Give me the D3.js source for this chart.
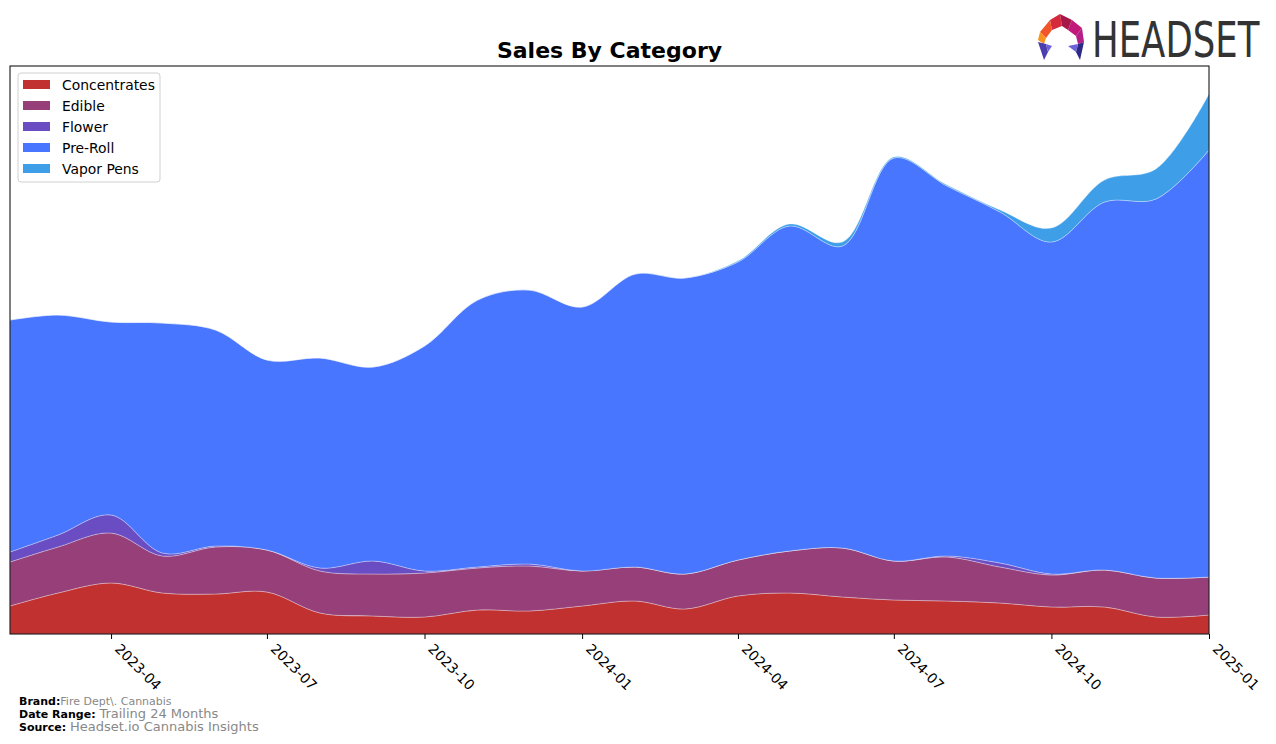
<!DOCTYPE html>
<html>
<head>
<meta charset="utf-8">
<script src="https://cdn.jsdelivr.net/npm/d3@7"></script>
<style>
  body { margin: 0; background: #fff; }
  text { font-family: "DejaVu Sans", sans-serif; }
</style>
</head>
<body>
<div id="vis"></div>
<script>
// monthly points, Feb 2023 .. Jan 2025
var months = ["2023-02","2023-03","2023-04","2023-05","2023-06","2023-07","2023-08","2023-09",
  "2023-10","2023-11","2023-12","2024-01","2024-02","2024-03","2024-04","2024-05","2024-06",
  "2024-07","2024-08","2024-09","2024-10","2024-11","2024-12","2025-01"];
var categories = ["Concentrates","Edible","Flower","Pre-Roll","Vapor Pens"];
var colors = ["#c0312f","#963f78","#6b4dc3","#4876fe","#3e9fe8"];

var concentrates = [28,41,51,41,40,42,21,18,17,24,23,28,33,25,38,41,37,34,33,31,27,27,17,19];
var edible       = [44,46,50,37,47,42,42,42,44,42,45,35,34,35,36,42,49,39,44,36,32,37,39,38];
var flower       = [10,12,18,3,1,0,3,13,2,1,2,0,0,0,0,0,0,0,1,4,1,0,0,0];
var preRoll      = [232,220,193,230,216,190,210,194,225,267,274,264,293,296,298,325,302,403,370,351,332,368,379,427];
var vaporPens    = [0,0,0,0,0,0,0,0,0,0,0,0,0,0,1,2,4,1,1,2,14,22,30,56];

var tickLabels = ["2023-04","2023-07","2023-10","2024-01","2024-04","2024-07","2024-10","2025-01"];

var W = 1276, H = 744;
var pL = 10, pR = 1209, pT = 66, pB = 634;
var parse = d3.timeParse("%Y-%m");

var rows = months.map(function(m, i) {
  return {date: parse(m), "Concentrates": concentrates[i], "Edible": edible[i],
    "Flower": flower[i], "Pre-Roll": preRoll[i], "Vapor Pens": vaporPens[i]};
});

var svg = d3.select("#vis").append("svg")
  .attr("width", W).attr("height", H);

var x = d3.scaleTime()
  .domain([parse(months[0]), parse(months[months.length-1])])
  .range([pL, pR]);

var series = d3.stack().keys(categories)(rows);
var maxTotal = d3.max(series[series.length-1], function(d){ return d[1]; });

var y = d3.scaleLinear()
  .domain([0, maxTotal * 1.052])
  .range([pB, pT]);

var area = d3.area()
  .curve(d3.curveCatmullRom.alpha(0.5))
  .x(function(d){ return x(d.data.date); })
  .y0(function(d){ return y(d[0]); })
  .y1(function(d){ return y(d[1]); });

svg.append("clipPath").attr("id", "clip")
  .append("rect").attr("x", pL).attr("y", pT)
  .attr("width", pR-pL).attr("height", pB-pT);

svg.append("g").attr("clip-path", "url(#clip)")
  .selectAll("path")
  .data(series)
  .enter().append("path")
  .attr("fill", function(d, i){ return colors[i]; })
  .attr("stroke", "rgba(255,255,255,0.3)")
  .attr("stroke-width", 1)
  .attr("d", area);

// frame
svg.append("rect")
  .attr("x", pL).attr("y", pT)
  .attr("width", pR-pL).attr("height", pB-pT)
  .attr("fill", "none").attr("stroke", "#000").attr("stroke-width", 1);

// x axis
var xAxis = d3.axisBottom(x)
  .tickValues(tickLabels.map(parse))
  .tickFormat(d3.timeFormat("%Y-%m"))
  .tickSize(5).tickSizeOuter(0);

var ax = svg.append("g")
  .attr("transform", "translate(0," + pB + ")")
  .call(xAxis);
ax.select(".domain").remove();
ax.selectAll("line").attr("stroke", "#000");
ax.selectAll("text")
  .attr("font-size", 14)
  .attr("fill", "#000")
  .attr("text-anchor", "start")
  .attr("dy", "0")
  .attr("transform", "translate(8,10) rotate(45)");

// title
svg.append("text")
  .attr("x", (pL+pR)/2).attr("y", 58)
  .attr("text-anchor", "middle")
  .attr("font-size", 22).attr("font-weight", "bold")
  .text("Sales By Category");

// legend
var lg = svg.append("g");
lg.append("rect")
  .attr("x", 18).attr("y", 73).attr("width", 142).attr("height", 109)
  .attr("rx", 3).attr("fill", "#fff").attr("fill-opacity", 0.8)
  .attr("stroke", "#d0d0d0");
var li = lg.selectAll("g.item").data(categories).enter().append("g")
  .attr("class", "item")
  .attr("transform", function(d, i){ return "translate(23," + (85 + i*21) + ")"; });
li.append("rect").attr("x", 0).attr("y", -5).attr("width", 27).attr("height", 9)
  .attr("fill", function(d, i){ return colors[i]; });
li.append("text").attr("x", 39).attr("y", 5).attr("font-size", 13.9)
  .text(function(d){ return d; });

// footer
function footer(yy, label, value, size) {
  var t = svg.append("text").attr("x", 19).attr("y", yy).attr("font-size", 11);
  t.append("tspan").attr("font-weight", "bold").attr("fill", "#000").text(label);
  t.append("tspan").attr("fill", "#888").attr("font-size", size).text(value);
}
footer(705, "Brand:", "Fire Dept\\. Cannabis", 11);
footer(718, "Date Range: ", "Trailing 24 Months", 13);
footer(731, "Source: ", "Headset.io Cannabis Insights", 13);

// logo
var logo = svg.append("g").attr("transform", "translate(1038,14)");
var facets = [
  {p: "12,6 22,0 24,12 14,16", c: "#d42a3c"},
  {p: "22,0 34,6 30,16 24,12", c: "#a8174a"},
  {p: "34,6 44,14 38,22 30,16", c: "#c2187a"},
  {p: "12,6 14,16 8,24 2,18", c: "#f0562a"},
  {p: "2,18 8,24 6,30 0,26", c: "#f7931e"},
  {p: "0,28 8,30 10,38 6,46", c: "#4b3fb0"},
  {p: "8,30 14,32 10,38", c: "#6d63d8"},
  {p: "38,22 44,14 46,28 40,30", c: "#b51e86"},
  {p: "46,28 40,30 38,38 42,46", c: "#2c2a86"},
  {p: "30,32 40,30 38,38", c: "#6d63d8"}
];
logo.selectAll("polygon").data(facets).enter().append("polygon")
  .attr("points", function(d){ return d.p; })
  .attr("fill", function(d){ return d.c; });
svg.append("text")
  .attr("transform", "translate(1092,57) scale(0.71,1)")
  .attr("font-family", "'Liberation Sans', Arial, sans-serif")
  .attr("font-size", 50).attr("fill", "#333")
  .text("HEADSET");
</script>
</body>
</html>
